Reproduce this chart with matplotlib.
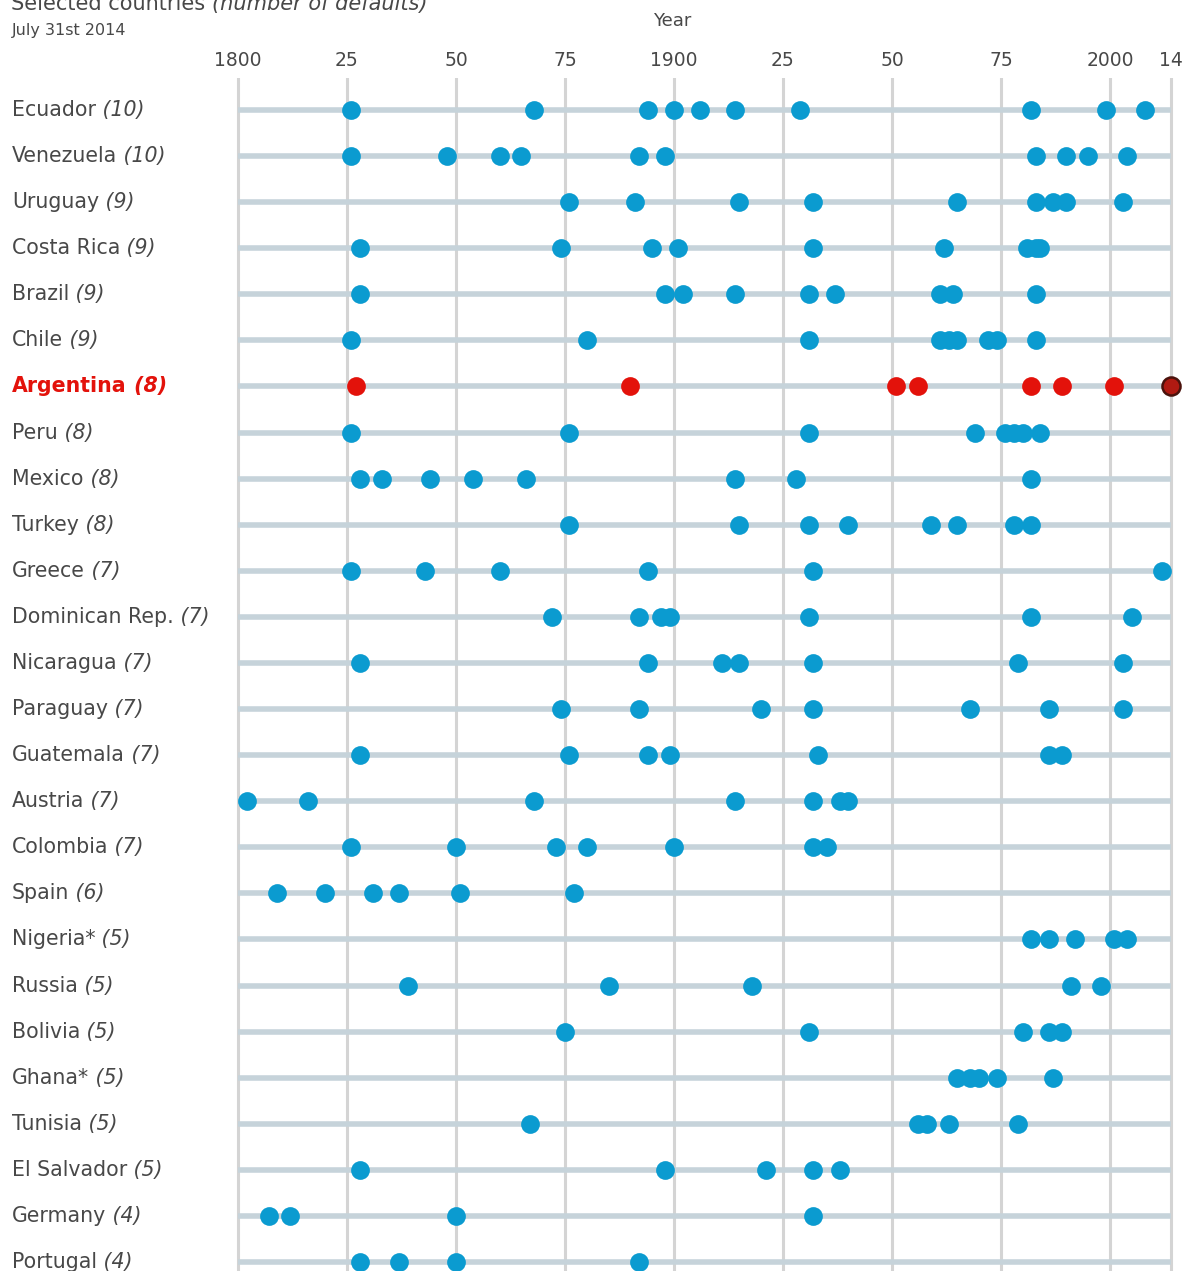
import matplotlib
matplotlib.use("Agg")
import matplotlib.pyplot as plt

plt.rcParams["font.family"] = ["DejaVu Sans"]

# countries top to bottom, with number of defaults
countries = ["Ecuador", "Venezuela", "Uruguay", "Costa Rica", "Brazil", "Chile",
             "Argentina", "Peru", "Mexico", "Turkey", "Greece", "Dominican Rep.",
             "Nicaragua", "Paraguay", "Guatemala", "Austria", "Colombia", "Spain",
             "Nigeria*", "Russia", "Bolivia", "Ghana*", "Tunisia", "El Salvador",
             "Germany", "Portugal"]
counts = [10, 10, 9, 9, 9, 9, 8, 8, 8, 8, 7, 7, 7, 7, 7, 7, 7, 6, 5, 5, 5, 5, 5, 5, 4, 4]

# default years
ecuador = [1826, 1868, 1894, 1900, 1906, 1914, 1929, 1982, 1999, 2008]
venezuela = [1826, 1848, 1860, 1865, 1892, 1898, 1983, 1990, 1995, 2004]
uruguay = [1876, 1891, 1915, 1932, 1965, 1983, 1987, 1990, 2003]
costa_rica = [1828, 1874, 1895, 1901, 1932, 1962, 1981, 1983, 1984]
brazil = [1828, 1898, 1902, 1914, 1931, 1937, 1961, 1964, 1983]
chile = [1826, 1880, 1931, 1961, 1963, 1965, 1972, 1974, 1983]
argentina = [1827, 1890, 1951, 1956, 1982, 1989, 2001, 2014]
peru = [1826, 1876, 1931, 1969, 1976, 1978, 1980, 1984]
mexico = [1828, 1833, 1844, 1854, 1866, 1914, 1928, 1982]
turkey = [1876, 1915, 1931, 1940, 1959, 1965, 1978, 1982]
greece = [1826, 1843, 1860, 1894, 1932, 2012]
dominican = [1872, 1892, 1897, 1899, 1931, 1982, 2005]
nicaragua = [1828, 1894, 1911, 1915, 1932, 1979, 2003]
paraguay = [1874, 1892, 1920, 1932, 1968, 1986, 2003]
guatemala = [1828, 1876, 1894, 1899, 1933, 1986, 1989]
austria = [1802, 1816, 1868, 1914, 1932, 1938, 1940]
colombia = [1826, 1850, 1873, 1880, 1900, 1932, 1935]
spain = [1809, 1820, 1831, 1837, 1851, 1877]
nigeria = [1982, 1986, 1992, 2001, 2004]
russia = [1839, 1885, 1918, 1991, 1998]
bolivia = [1875, 1931, 1980, 1986, 1989]
ghana = [1965, 1968, 1970, 1974, 1987]
tunisia = [1867, 1956, 1958, 1963, 1979]
el_salvador = [1828, 1898, 1921, 1932, 1938]
germany = [1807, 1812, 1850, 1932]
portugal = [1828, 1837, 1850, 1892]

defaults = [ecuador, venezuela, uruguay, costa_rica, brazil, chile, argentina, peru,
            mexico, turkey, greece, dominican, nicaragua, paraguay, guatemala, austria,
            colombia, spain, nigeria, russia, bolivia, ghana, tunisia, el_salvador,
            germany, portugal]

tick_years = [1800, 1825, 1850, 1875, 1900, 1925, 1950, 1975, 2000, 2014]
tick_labels = ["1800", "25", "50", "75", "1900", "25", "50", "75", "2000", "14"]

BLUE = "#0b9bd0"
RED = "#e3120b"
TEXT = "#484848"

W, H = 1191, 1271
fig = plt.figure(figsize=(W / 100, H / 100), dpi=100)
ax = fig.add_axes([230 / W, 0, 950 / W, (H - 78) / H])

n = len(countries)
ax.set_xlim(1800 - 8 * 214 / 933, 2014 + 9 * 214 / 933)
ax.set_ylim((H - 110) / 46.08, -32 / 46.08)

for yr in tick_years:
    ax.axvline(yr, color="#d4d4d4", lw=2.2, zorder=0)
ax.hlines(range(n), 1800, 2014, color="#c6d3da", lw=4, zorder=1)

for i, (name, years) in enumerate(zip(countries, defaults)):
    if name == "Argentina":
        ax.plot(years[:-1], [i] * (len(years) - 1), "o", ms=13.5, mew=0, color=RED, zorder=3)
        ax.plot(years[-1:], [i], "o", ms=13, mfc="#b01a12", mec="#4a120c", mew=1.8,
                zorder=3, clip_on=False)
    else:
        ax.plot(years, [i] * len(years), "o", ms=13.5, mew=0, color=BLUE, zorder=3)

ax.set_xticks(tick_years)
ax.set_xticklabels(tick_labels)
ax.xaxis.tick_top()
ax.tick_params(axis="x", length=0, pad=6, labelsize=13.5, labelcolor=TEXT)
ax.set_yticks([])
for s in ax.spines.values():
    s.set_visible(False)

# row labels: name in roman, count in italic
renderer = fig.canvas.get_renderer()
for i, (name, c) in enumerate(zip(countries, counts)):
    y = 1 - (110 + 46.08 * i) / H
    col = RED if name == "Argentina" else TEXT
    wt = "bold" if name == "Argentina" else "normal"
    t = fig.text(12 / W, y, name, fontsize=14.8, color=col, weight=wt, va="center")
    bb = t.get_window_extent(renderer)
    fig.text(bb.x1 / W, y, f" ({c})", fontsize=14.8, color=col, style="italic",
             weight=wt, va="center")

t = fig.text(11 / W, 1 - 10 / H, "Selected countries ", fontsize=15, color=TEXT,
             va="baseline")
bb = t.get_window_extent(renderer)
fig.text(bb.x1 / W, 1 - 10 / H, "(number of defaults)", fontsize=15, color=TEXT,
         style="italic", va="baseline")
fig.text(12 / W, 1 - 31 / H, "July 31st 2014", fontsize=11.5, color=TEXT, va="center")
fig.text(672 / W, 1 - 21 / H, "Year", fontsize=13, color=TEXT, ha="center", va="center")

fig.savefig("out.png", dpi=100)
